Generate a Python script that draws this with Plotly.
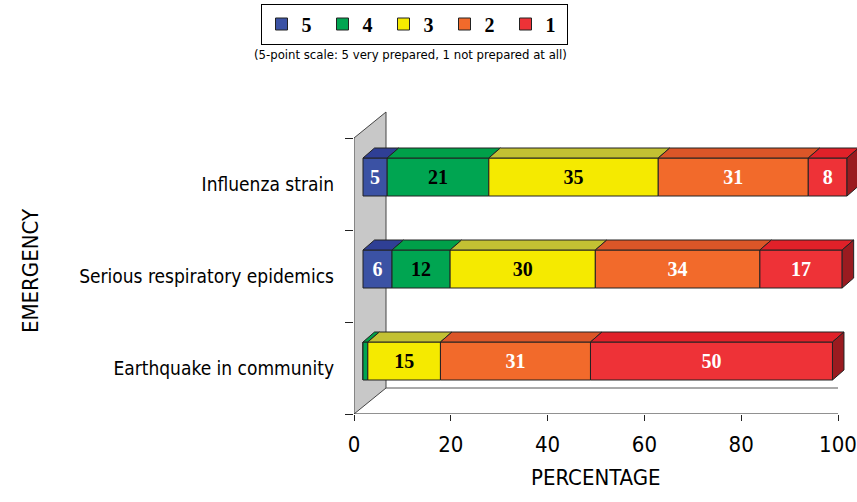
import numpy as np
import plotly.graph_objects as go

# ---------------- data ----------------
categories = ["Earthquake in community", "Serious respiratory epidemics", "Influenza strain"]  # bottom -> top
levels = ["5", "4", "3", "2", "1"]
s5 = [0, 6, 5]
s4 = [1, 12, 21]
s3 = [15, 30, 35]
s2 = [31, 34, 31]
s1 = [50, 17, 8]
series = [s5, s4, s3, s2, s1]
x_ticks = [0, 20, 40, 60, 80, 100]

# ---------------- styles ----------------
front_colors = ["#3b52a4", "#00a551", "#f5ea00", "#f26a2b", "#ee3237"]
top_colors = ["#2f3f95", "#00a049", "#c3c133", "#db5628", "#e02129"]
text_colors = ["white", "black", "black", "white", "white"]
side_color = "#9a1b20"
edge = "#222222"

NARROW = "DejaVu Sans Condensed, Liberation Sans, sans-serif"
SERIF = "Liberation Serif, Times New Roman, serif"

# pseudo-3D geometry (in axis units)
PX_X = 4.84      # px per percent
PX_Y = 92.0      # px per category band
W, H = 857, 502
L, T = 354, 110
R, B = 0, 88
PW, PH = W - L - R, H - T - B
x_max = PW / PX_X
y_max = PH / PX_Y
DX0 = 9 / PX_X       # bar front offset from front plane
DY0 = 7 / PX_Y
DDX = 11.5 / PX_X    # bar depth
DDY = 10 / PX_Y
BAR_H = 38 / PX_Y
WALL_X = 32 / PX_X   # full depth of the wall/floor
WALL_Y = 26 / PX_Y


def px_x(px):
    return (px - L) / PW


def px_y(py):
    return (T + PH - py) / PH


ypos = [i + 0.5 + DY0 for i in range(len(categories))]

fig = go.Figure()

cum = np.zeros(len(categories))
for lvl, vals, fc, tc, txc in zip(levels, series, front_colors, top_colors, text_colors):
    vals = np.array(vals, dtype=float)
    base = cum + DX0
    fig.add_trace(go.Bar(
        orientation="h", y=ypos, x=vals, base=base, width=BAR_H, name=lvl,
        marker=dict(color=fc, line=dict(color=edge, width=1)),
        text=[str(int(v)) if v >= 4 else "" for v in vals],
        textposition="inside", insidetextanchor="middle", textangle=0,
        constraintext="none",
        textfont=dict(family=SERIF, size=20, color=txc, weight="bold"),
        hoverinfo="skip",
    ))
    for i in range(len(categories)):
        if vals[i] <= 0:
            continue
        x0 = base[i]
        x1 = base[i] + vals[i]
        yt = ypos[i] + BAR_H / 2
        fig.add_trace(go.Scatter(
            x=[x0, x0 + DDX, x1 + DDX, x1, x0], y=[yt, yt + DDY, yt + DDY, yt, yt],
            fill="toself", fillcolor=tc, mode="lines", line=dict(color=edge, width=1),
            showlegend=False, hoverinfo="skip",
        ))
    cum += vals

# right side face of the last segment of each row
for i in range(len(categories)):
    xe = cum[i] + DX0
    yb = ypos[i] - BAR_H / 2
    yt = ypos[i] + BAR_H / 2
    fig.add_trace(go.Scatter(
        x=[xe, xe, xe + DDX, xe + DDX, xe], y=[yb, yt, yt + DDY, yb + DDY, yb],
        fill="toself", fillcolor=side_color, mode="lines", line=dict(color=edge, width=1),
        showlegend=False, hoverinfo="skip", cliponaxis=False,
    ))

n = len(categories)
# wall
fig.add_shape(type="path", xref="x", yref="y", layer="below",
              path=f"M 0,0 L 0,{n} L {WALL_X},{n + WALL_Y} L {WALL_X},{WALL_Y} Z",
              fillcolor="#c8c8c8", line=dict(color="#444444", width=1))
# floor back edge and x-axis line
fig.add_shape(type="line", xref="x", yref="y", layer="below",
              x0=WALL_X, y0=WALL_Y, x1=x_ticks[-1], y1=WALL_Y,
              line=dict(color="#555555", width=1))
fig.add_shape(type="line", xref="x", yref="y", layer="below",
              x0=0, y0=0, x1=x_ticks[-1], y1=0,
              line=dict(color="#222222", width=1))

fig.update_layout(
    width=W, height=H,
    margin=dict(l=L, r=R, t=T, b=B, autoexpand=False),
    plot_bgcolor="white", paper_bgcolor="white",
    barmode="overlay",
    showlegend=True,
    legend=dict(
        orientation="h", x=px_x(414), xanchor="center",
        y=px_y(24), yanchor="middle",
        bordercolor="black", borderwidth=1, bgcolor="white",
        font=dict(family=SERIF, size=20, color="black", weight="bold"),
        traceorder="normal", entrywidth=16, entrywidthmode="pixels",
        itemclick=False,
    ),
    xaxis=dict(
        range=[0, x_max], tickvals=x_ticks, ticktext=[str(t) for t in x_ticks],
        ticks="outside", ticklen=6, tickcolor="#222222",
        showgrid=False, zeroline=False, showline=False, automargin=False,
        ticklabelstandoff=5,
        tickfont=dict(family=NARROW, size=22, color="black"),
    ),
    yaxis=dict(
        range=[0, y_max], tickvals=[i + 0.5 for i in range(n)], ticktext=categories,
        ticks="", showgrid=False, zeroline=False, showline=False, automargin=False,
        ticklabelstandoff=19,
        tickfont=dict(family=NARROW, size=19, color="black"),
        minor=dict(tickvals=list(range(n + 1)), ticks="outside", ticklen=8,
                   tickcolor="#222222", showgrid=False),
    ),
    annotations=[
        dict(text="(5-point scale: 5 very prepared, 1 not prepared at all)",
             xref="paper", yref="paper", x=px_x(410), y=px_y(55),
             xanchor="center", yanchor="middle", showarrow=False,
             font=dict(family=NARROW, size=13, color="black")),
        dict(text="PERCENTAGE", xref="x", yref="paper", x=50, y=px_y(477),
             xanchor="center", yanchor="middle", showarrow=False,
             font=dict(family=NARROW, size=22, color="black")),
        dict(text="EMERGENCY", xref="paper", yref="paper", x=px_x(30),
             y=px_y(271), textangle=-90,
             xanchor="center", yanchor="middle", showarrow=False,
             font=dict(family=NARROW, size=22, color="black")),
    ],
)

fig.write_html("out.html",
               config={"displayModeBar": False},
               post_script="document.body.style.margin='0';document.body.style.overflow='hidden';")
